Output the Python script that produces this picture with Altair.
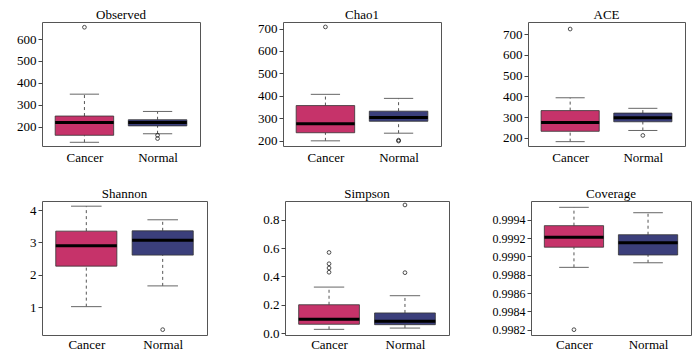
import altair as alt
import pandas as pd

metrics = ["Observed", "Chao1", "ACE", "Shannon", "Simpson", "Coverage"]
groups = ["Cancer", "Normal"]
group_pos = [1, 2]

whisker_low = [[128, 167], [200, 234], [181, 235], [1.02, 1.66], [0.026, 0.035], [0.99888, 0.99893]]
q1 = [[160, 203], [236, 287], [231, 277], [2.27, 2.61], [0.062, 0.059], [0.99910, 0.999015]]
median = [[219, 219], [276, 304], [274, 297], [2.90, 3.07], [0.097, 0.083], [0.999208, 0.999149]]
q3 = [[248, 231], [357, 332], [331, 319], [3.35, 3.36], [0.200, 0.142], [0.999335, 0.999236]]
whisker_high = [[348, 269], [407, 389], [393, 342], [4.12, 3.70], [0.325, 0.264], [0.999535, 0.999476]]
outliers = [
    [[654], [160, 145]],
    [[707], [203, 199]],
    [[725], [211]],
    [[], [0.31]],
    [[0.57, 0.49, 0.46, 0.43], [0.427, 0.906]],
    [[0.99820], []],
]

y_domains = [[111, 678], [177, 729], [160, 759], [0.145, 4.28], [-0.014, 0.934], [0.998142, 0.999604]]
y_ticks = [
    [200, 300, 400, 500, 600],
    [200, 300, 400, 500, 600, 700],
    [200, 300, 400, 500, 600, 700],
    [1, 2, 3, 4],
    [0.0, 0.2, 0.4, 0.6, 0.8],
    [0.9982, 0.9984, 0.9986, 0.9988, 0.9990, 0.9992, 0.9994],
]
y_formats = ["d", "d", "d", "d", ".1f", ".4f"]

box_colors = ["#C6336A", "#3B3F7B"]

# layout sizes
widths = [158, 158, 157, 165, 164, 160]
heights = [124, 124, 124, 134, 134, 134]
extents = [33, 61, 65, 29, 56, 60]
label_sizes = [13, 13, 13, 13, 13, 12]
x_label_pad = [5, 5, 5, 3, 3, 3]

FONT = "Liberation Serif, DejaVu Serif, Times New Roman, serif"


def panel(i):
    m = metrics[i]
    box = pd.DataFrame({
        "group": groups,
        "pos": group_pos,
        "lo": whisker_low[i],
        "q1": q1[i],
        "med": median[i],
        "q3": q3[i],
        "hi": whisker_high[i],
    })
    box["xl"] = box["pos"] - 0.4
    box["xr"] = box["pos"] + 0.4
    box["sl"] = box["pos"] - 0.2
    box["sr"] = box["pos"] + 0.2

    orows = []
    for g, p, vals in zip(groups, group_pos, outliers[i]):
        for v in vals:
            orows.append({"group": g, "pos": p, "value": v})
    out = pd.DataFrame(orows, columns=["group", "pos", "value"])

    xs = alt.Scale(domain=[0.42, 2.58], nice=False, zero=False)
    ys = alt.Scale(domain=y_domains[i], nice=False, zero=False)
    xaxis = alt.Axis(values=[1, 2], labelExpr="datum.value == 1 ? 'Cancer' : 'Normal'",
                     ticks=False, domain=False, grid=False, title=None,
                     labelFont=FONT, labelFontSize=13, labelColor="black",
                     labelPadding=x_label_pad[i], labelFlush=False, labelOverlap=False)
    yaxis = alt.Axis(values=y_ticks[i], format=y_formats[i], domain=False, grid=False,
                     title=None, labelFont=FONT, labelFontSize=label_sizes[i],
                     labelColor="black", tickSize=4, tickColor="#444",
                     labelPadding=2, labelOverlap=False, labelFlush=False,
                     minExtent=extents[i], maxExtent=extents[i])

    def X(field):
        return alt.X(field, scale=xs, axis=xaxis)

    def Y(field):
        return alt.Y(field, scale=ys, axis=yaxis)

    base = alt.Chart(box)
    whisk_up = base.mark_rule(color="#555", strokeDash=[3, 3], strokeWidth=1).encode(
        x=X("pos:Q"), y=Y("q3:Q"), y2="hi:Q")
    whisk_dn = base.mark_rule(color="#555", strokeDash=[3, 3], strokeWidth=1).encode(
        x=X("pos:Q"), y=Y("lo:Q"), y2="q1:Q")
    staple_hi = base.mark_rule(color="#666", strokeWidth=1).encode(
        x=X("sl:Q"), x2="sr:Q", y=Y("hi:Q"))
    staple_lo = base.mark_rule(color="#666", strokeWidth=1).encode(
        x=X("sl:Q"), x2="sr:Q", y=Y("lo:Q"))
    rect = base.mark_rect(stroke="#333", strokeWidth=0.8).encode(
        x=X("xl:Q"), x2="xr:Q", y=Y("q1:Q"), y2="q3:Q",
        fill=alt.Fill("group:N", scale=alt.Scale(domain=groups, range=box_colors), legend=None),
    )
    med = base.mark_rule(color="black", strokeWidth=3).encode(
        x=X("xl:Q"), x2="xr:Q", y=Y("med:Q"))
    pts = alt.Chart(out).mark_point(shape="circle", filled=False, size=14,
                                    color="black", strokeWidth=1).encode(
        x=X("pos:Q"), y=Y("value:Q"))

    return alt.layer(whisk_up, whisk_dn, staple_hi, staple_lo, rect, med, pts).properties(
        width=widths[i], height=heights[i],
        title=alt.TitleParams(m, font=FONT, fontSize=13, fontWeight="normal",
                              color="black", offset=0, anchor="middle"),
    )


top = alt.hconcat(panel(0), panel(1), panel(2), spacing=20)
bottom = alt.hconcat(panel(3), panel(4), panel(5), spacing=20)

chart = alt.vconcat(top, bottom, spacing=22).properties(
    padding={"left": 0, "top": 0, "right": 0, "bottom": 0},
    background="white",
).configure_view(
    stroke="#555", strokeWidth=1
).configure_axis(
    labelFont=FONT, labelOverlap=False
).configure_title(
    font=FONT
)

chart.save("out.html", embed_options={"renderer": "svg", "actions": False})
